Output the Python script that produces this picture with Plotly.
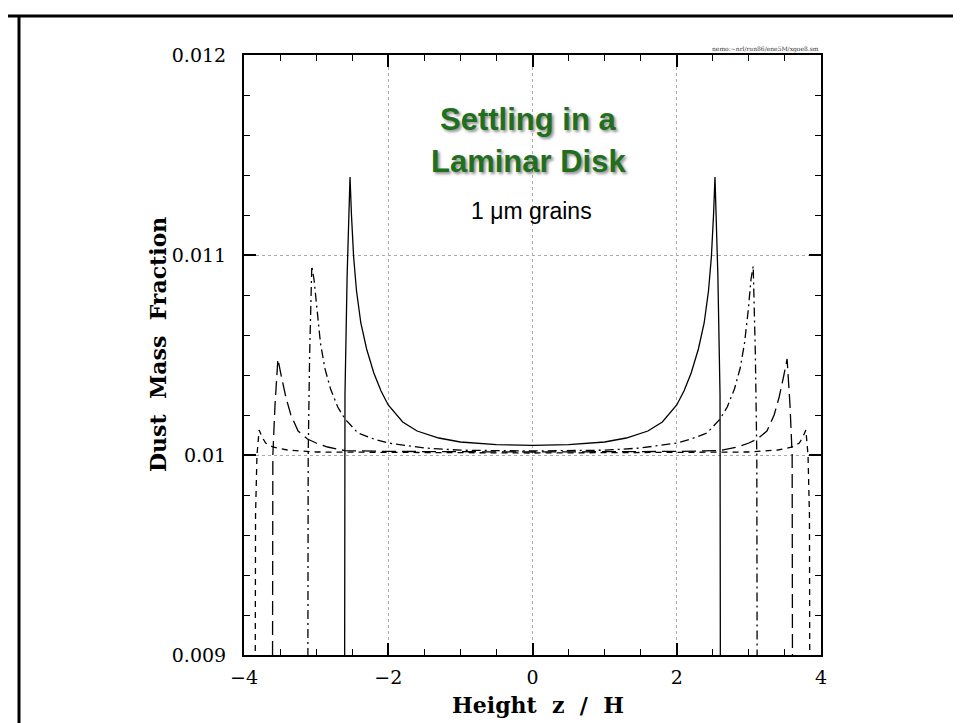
import plotly.graph_objects as go

# ---- data (dust mass fraction vs height z/H) ----
solid_z = [-2.605, -2.60, -2.57, -2.53, -2.51, -2.48, -2.44, -2.38, -2.3, -2.2, -2.1, -2.0, -1.8, -1.6, -1.3, -1.0, -0.5, 0.0,
           0.5, 1.0, 1.3, 1.6, 1.8, 2.0, 2.1, 2.2, 2.3, 2.38, 2.44, 2.48, 2.51, 2.53, 2.57, 2.60, 2.605]
solid_v = [0.0088, 0.0103, 0.0109, 0.01139, 0.01120, 0.01099, 0.01082, 0.01066, 0.01053, 0.01041, 0.01032, 0.01025, 0.010165, 0.01012, 0.010085, 0.010065, 0.010052, 0.010048,
           0.010052, 0.010065, 0.010085, 0.01012, 0.010165, 0.01025, 0.01032, 0.01041, 0.01053, 0.01066, 0.01082, 0.01099, 0.01120, 0.01139, 0.0109, 0.0103, 0.0088]

dashdot_z = [-3.115, -3.11, -3.09, -3.06, -3.03, -2.99, -2.94, -2.88, -2.8, -2.7, -2.6, -2.42, -2.2, -2.0, -1.5, -1.0, 0.0,
             1.0, 1.5, 2.0, 2.2, 2.42, 2.6, 2.7, 2.8, 2.88, 2.94, 2.99, 3.03, 3.06, 3.09, 3.11, 3.115]
dashdot_v = [0.0088, 0.0100, 0.0105, 0.010945, 0.01088, 0.01072, 0.01056, 0.010435, 0.01033, 0.01024, 0.01018, 0.01011, 0.01008, 0.01006, 0.010035, 0.010024, 0.01002,
             0.010024, 0.010035, 0.01006, 0.01008, 0.01011, 0.01018, 0.01024, 0.01033, 0.010435, 0.01056, 0.01072, 0.01088, 0.010945, 0.0105, 0.0100, 0.0088]

longdash_z = [-3.605, -3.60, -3.57, -3.53, -3.48, -3.42, -3.35, -3.25, -3.12, -3.0, -2.84, -2.6, -2.0, 0.0,
              2.0, 2.6, 2.84, 3.0, 3.12, 3.25, 3.35, 3.42, 3.48, 3.53, 3.57, 3.60, 3.605]
longdash_v = [0.0088, 0.0100, 0.01025, 0.01048, 0.01039, 0.01029, 0.0102, 0.01012, 0.01008, 0.01006, 0.01004, 0.010022, 0.010018, 0.010015,
              0.010018, 0.010022, 0.01004, 0.01006, 0.01008, 0.01012, 0.0102, 0.01029, 0.01039, 0.01048, 0.01025, 0.0100, 0.0088]

shortdash_z = [-3.845, -3.84, -3.82, -3.79, -3.75, -3.7, -3.6, -3.4, -3.0, 0.0,
               3.0, 3.4, 3.6, 3.7, 3.75, 3.79, 3.82, 3.84, 3.845]
shortdash_v = [0.0088, 0.0097, 0.0100, 0.010125, 0.01009, 0.01006, 0.01004, 0.010025, 0.010015, 0.01001,
               0.010015, 0.010025, 0.01004, 0.01006, 0.01009, 0.010125, 0.0100, 0.0097, 0.0088]

x_tickvals = [-4, -2, 0, 2, 4]
y_tickvals = [0.009, 0.010, 0.011, 0.012]
y_ticktext = ["0.009", "0.01", "0.011", "0.012"]

# ---- figure ----
W, H = 961, 723
ML, MR, MT, MB = 236, 148, 47, 76
PW, PH = W - ML - MR, H - MT - MB

def px(xpix):
    return (xpix - ML) / PW

def py(ypix):
    return (H - MB - ypix) / PH

fig = go.Figure()
line_w = 1.3
fig.add_trace(go.Scatter(x=solid_z, y=solid_v, mode="lines",
                         line=dict(color="black", width=line_w, dash="solid")))
fig.add_trace(go.Scatter(x=dashdot_z, y=dashdot_v, mode="lines",
                         line=dict(color="black", width=line_w, dash="9px,4px,2px,4px")))
fig.add_trace(go.Scatter(x=longdash_z, y=longdash_v, mode="lines",
                         line=dict(color="black", width=line_w, dash="14px,6px")))
fig.add_trace(go.Scatter(x=shortdash_z, y=shortdash_v, mode="lines",
                         line=dict(color="black", width=line_w, dash="6px,5px")))

tick_font = dict(family="DejaVu Serif", size=19, color="black")
fig.update_xaxes(range=[-4, 4], tickmode="array", tickvals=x_tickvals,
                 ticks="inside", ticklen=12, tickwidth=1.5, tickcolor="black",
                 showline=True, linewidth=2, linecolor="black", mirror="allticks",
                 showgrid=True, gridcolor="#aaaaaa", griddash="dot", gridwidth=1,
                 zeroline=False, tickfont=tick_font, ticklabelstandoff=4,
                 minor=dict(tickmode="linear", tick0=-4, dtick=0.5, ticks="inside",
                            ticklen=6, tickwidth=1.2, tickcolor="black"))
fig.update_yaxes(range=[0.009, 0.012], tickmode="array", tickvals=y_tickvals, ticktext=y_ticktext,
                 ticks="inside", ticklen=12, tickwidth=1.5, tickcolor="black",
                 showline=True, linewidth=2, linecolor="black", mirror="allticks",
                 showgrid=True, gridcolor="#aaaaaa", griddash="dot", gridwidth=1,
                 zeroline=False, tickfont=tick_font, ticklabelstandoff=12,
                 minor=dict(tickmode="linear", tick0=0.009, dtick=0.0002, ticks="inside",
                            ticklen=6, tickwidth=1.2, tickcolor="black"))

title_font = dict(family="DejaVu Serif", size=22, color="black", weight="bold")
green = "#1f6f1f"
shadow = "2px 2px 3px rgba(0,0,0,0.45)"
annotations = [
    dict(text="Height  z  /  H", x=px(530), y=py(697), xref="paper", yref="paper",
         showarrow=False, xanchor="center", yanchor="middle", font=title_font),
    dict(text="Dust  Mass  Fraction", x=px(150), y=py(337), xref="paper", yref="paper",
         showarrow=False, xanchor="center", yanchor="middle", textangle=-90, font=title_font),
    dict(text="Settling in a", x=px(520), y=py(112), xref="paper", yref="paper",
         showarrow=False, xanchor="center", yanchor="middle",
         font=dict(family="Liberation Sans", size=31, color=green, weight="bold", shadow=shadow)),
    dict(text="Laminar Disk", x=px(520), y=py(153), xref="paper", yref="paper",
         showarrow=False, xanchor="center", yanchor="middle",
         font=dict(family="Liberation Sans", size=31, color=green, weight="bold", shadow=shadow)),
    dict(text="1 \u03bcm grains", x=px(523), y=py(203), xref="paper", yref="paper",
         showarrow=False, xanchor="center", yanchor="middle",
         font=dict(family="Liberation Sans", size=23, color="black")),
    dict(text="nemo:~nrl/run86/ene5M/xgoe8.sm", x=1.0, y=py(41), xref="paper", yref="paper",
         showarrow=False, xanchor="right", yanchor="middle",
         font=dict(family="DejaVu Serif", size=6, color="#333333")),
]

shapes = [
    dict(type="line", xref="paper", yref="paper", x0=px(0), x1=px(W), y0=py(8), y1=py(8),
         line=dict(color="black", width=3)),
    dict(type="line", xref="paper", yref="paper", x0=px(11), x1=px(11), y0=py(7), y1=py(H),
         line=dict(color="black", width=3)),
]

fig.update_layout(width=W, height=H, margin=dict(l=ML, r=MR, t=MT, b=MB),
                  paper_bgcolor="white", plot_bgcolor="white", showlegend=False,
                  annotations=annotations, shapes=shapes)

fig.write_html("out.html")
